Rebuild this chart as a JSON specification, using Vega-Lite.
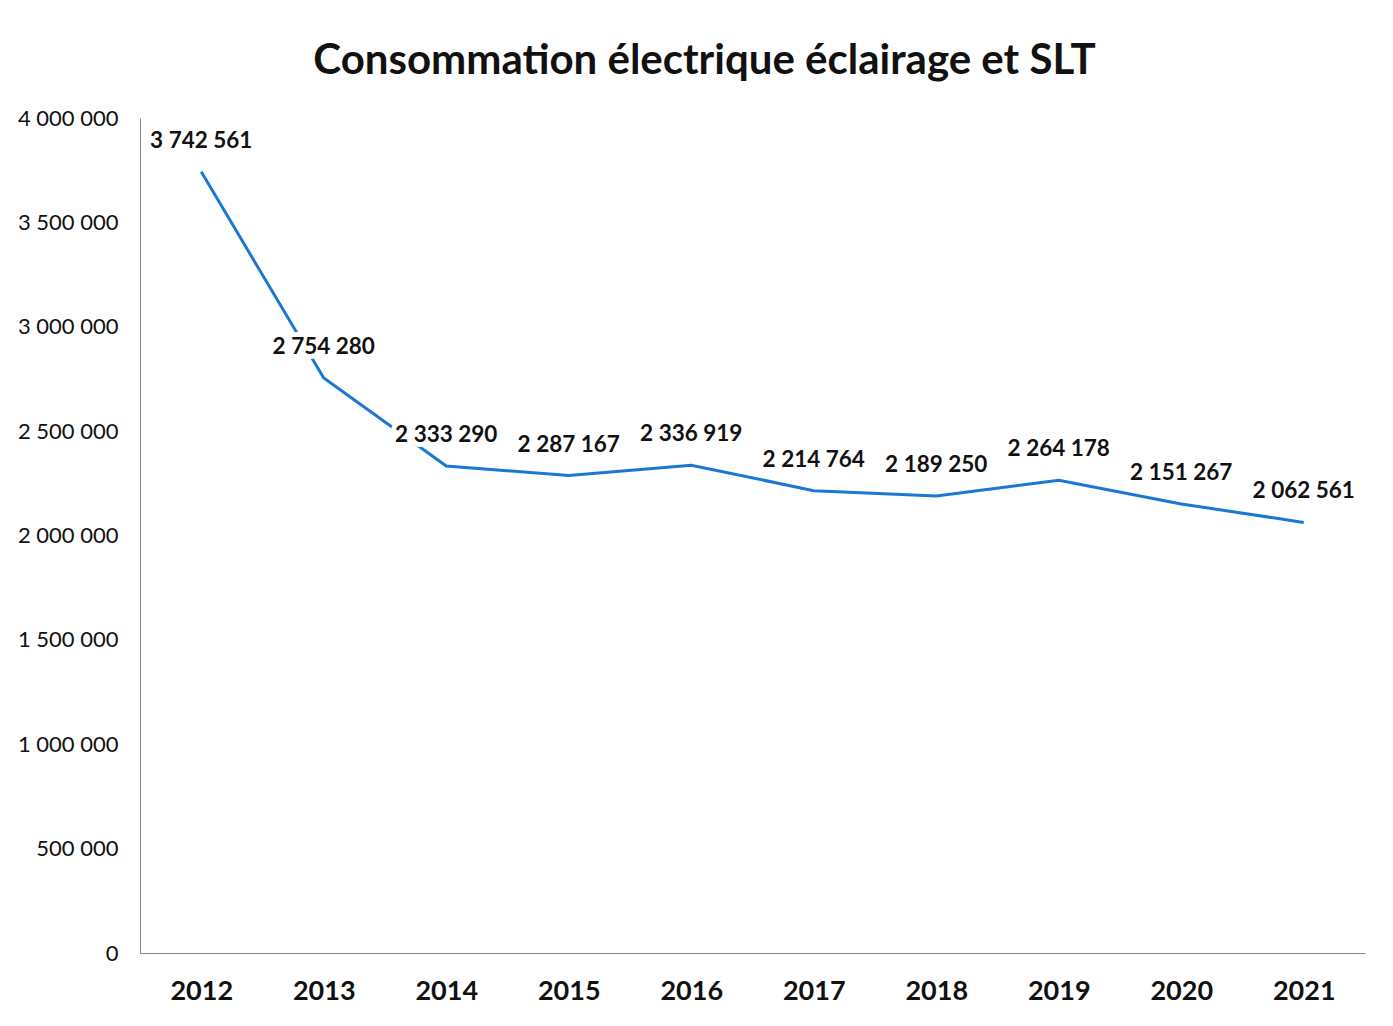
{
  "$schema": "https://vega.github.io/schema/vega-lite/v6.json",
  "width": 1225,
  "height": 835,
  "autosize": {"type": "none"},
  "padding": {"left": 140, "top": 118, "right": 28, "bottom": 73},
  "background": "white",
  "config": {
    "locale": {"number": {"decimal": ",", "thousands": " ", "grouping": [3], "currency": ["", " €"]}},
    "view": {"stroke": null},
    "font": "Lato"
  },
  "title": {
    "text": "Consommation électrique éclairage et SLT",
    "font": "Lato",
    "fontSize": 42,
    "fontWeight": "bold",
    "color": "#111111",
    "anchor": "middle",
    "dx": -48,
    "offset": 24
  },
  "data": {
    "values": [
      {"annee": "2012", "conso": 3742561},
      {"annee": "2013", "conso": 2754280},
      {"annee": "2014", "conso": 2333290},
      {"annee": "2015", "conso": 2287167},
      {"annee": "2016", "conso": 2336919},
      {"annee": "2017", "conso": 2214764},
      {"annee": "2018", "conso": 2189250},
      {"annee": "2019", "conso": 2264178},
      {"annee": "2020", "conso": 2151267},
      {"annee": "2021", "conso": 2062561}
    ]
  },
  "encoding": {
    "x": {
      "field": "annee",
      "type": "ordinal",
      "scale": {"type": "point", "padding": 0.5},
      "axis": {
        "title": null,
        "labelAngle": 0,
        "labelFont": "Lato",
        "labelFontSize": 27,
        "labelFontWeight": "bold",
        "labelColor": "#111111",
        "labelPadding": 25,
        "ticks": false,
        "domainColor": "#888888",
        "domainWidth": 1,
        "grid": false
      }
    },
    "y": {
      "field": "conso",
      "type": "quantitative",
      "scale": {"domain": [0, 4000000], "nice": false},
      "axis": {
        "title": null,
        "values": [0, 500000, 1000000, 1500000, 2000000, 2500000, 3000000, 3500000, 4000000],
        "format": ",d",
        "labelFont": "Lato",
        "labelFontSize": 22,
        "labelColor": "#111111",
        "labelPadding": 22,
        "ticks": false,
        "domainColor": "#888888",
        "domainWidth": 1,
        "grid": false
      }
    }
  },
  "layer": [
    {
      "mark": {"type": "line", "color": "#1a78d4", "strokeWidth": 3}
    },
    {
      "mark": {"type": "text", "font": "Lato", "fontSize": 22.5, "fontWeight": "bold", "dy": -24, "baseline": "alphabetic", "stroke": "white", "strokeWidth": 10, "fill": "white"},
      "encoding": {"text": {"field": "conso", "type": "quantitative", "format": ",d"}}
    },
    {
      "mark": {"type": "text", "font": "Lato", "fontSize": 22.5, "fontWeight": "bold", "dy": -24, "baseline": "alphabetic", "color": "#111111"},
      "encoding": {"text": {"field": "conso", "type": "quantitative", "format": ",d"}}
    }
  ]
}
